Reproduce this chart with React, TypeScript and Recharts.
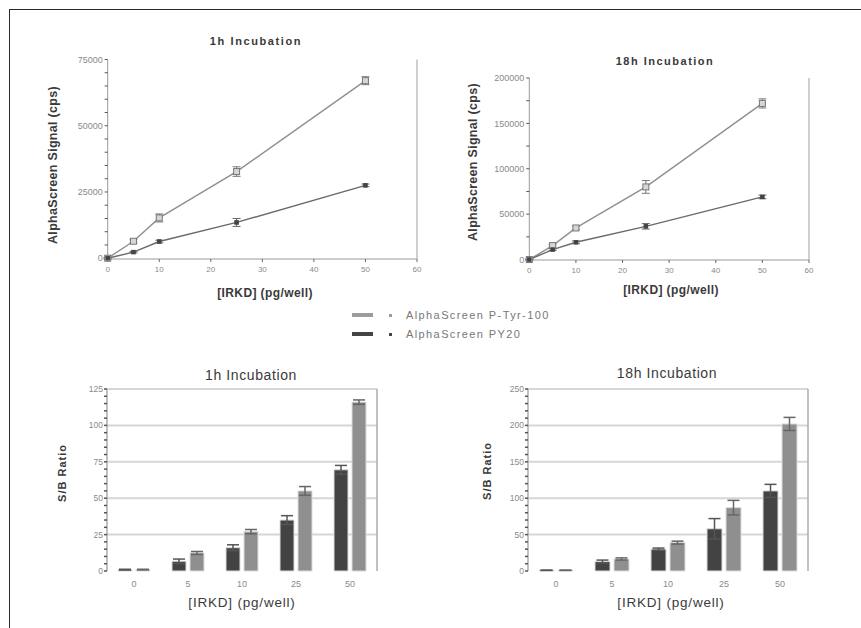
import React from 'react';
import { LineChart, Line, BarChart, Bar, XAxis, YAxis, CartesianGrid, ErrorBar } from 'recharts';

// concentrations (pg/well)
const doses = [0, 5, 10, 25, 50];
const doseLabels = ['0', '5', '10', '25', '50'];

// AlphaScreen signal (cps)
const signal1hPTyr = [0, 6400, 15200, 32700, 67000];
const signal1hPTyrErr = [300, 600, 1500, 1800, 1500];
const signal1hPY20 = [0, 2300, 6300, 13500, 27500];
const signal1hPY20Err = [200, 300, 500, 1500, 500];

const signal18hPTyr = [0, 15400, 34800, 80000, 172000];
const signal18hPTyrErr = [500, 1500, 2000, 7000, 5000];
const signal18hPY20 = [0, 11000, 19000, 36600, 69000];
const signal18hPY20Err = [500, 1000, 1500, 3000, 2000];

// S/B ratios
const ratio1hPY20 = [1, 6.7, 16, 35, 69.5];
const ratio1hPY20Err = [0.2, 1.5, 2, 3, 3];
const ratio1hPTyr = [1, 12.4, 27, 55, 116];
const ratio1hPTyrErr = [0.2, 1, 1.5, 3, 1.5];

const ratio18hPY20 = [1, 13, 30, 58, 110];
const ratio18hPY20Err = [0.2, 2, 1.5, 14, 9];
const ratio18hPTyr = [1, 16.5, 39, 87, 202];
const ratio18hPTyrErr = [0.2, 1.5, 2, 10, 9];

// axis ticks
const doseTicks = [0, 10, 20, 30, 40, 50, 60];
const signal1hTicks = [0, 5000, 10000, 15000, 20000, 25000, 30000, 35000, 40000, 45000, 50000, 55000, 60000, 65000, 70000, 75000];
const signal1hMajor = [0, 25000, 50000, 75000];
const signal18hTicks = [0, 25000, 50000, 75000, 100000, 125000, 150000, 175000, 200000];
const signal18hMajor = [0, 50000, 100000, 150000, 200000];
const ratio1hTicks = [0, 5, 10, 15, 20, 25, 30, 35, 40, 45, 50, 55, 60, 65, 70, 75, 80, 85, 90, 95, 100, 105, 110, 115, 120, 125];
const ratio1hMajor = [0, 25, 50, 75, 100, 125];
const ratio18hTicks = [0, 10, 20, 30, 40, 50, 60, 70, 80, 90, 100, 110, 120, 130, 140, 150, 160, 170, 180, 190, 200, 210, 220, 230, 240, 250];
const ratio18hMajor = [0, 50, 100, 150, 200, 250];

const FONT = '"Liberation Sans", Arial, sans-serif';
const LIGHT = '#8f8f8f';
const DARK = '#434343';

const lineRows = (a: number[], ea: number[], b: number[], eb: number[]) =>
  doses.map((d, i) => ({ dose: d, ptyr: a[i], ptyrErr: ea[i], py20: b[i], py20Err: eb[i] }));

const barRows = (a: number[], ea: number[], b: number[], eb: number[]) =>
  doseLabels.map((d, i) => ({ dose: d, py20: a[i], py20Err: ea[i], ptyr: b[i], ptyrErr: eb[i] }));

const rows1h = lineRows(signal1hPTyr, signal1hPTyrErr, signal1hPY20, signal1hPY20Err);
const rows18h = lineRows(signal18hPTyr, signal18hPTyrErr, signal18hPY20, signal18hPY20Err);
const bars1h = barRows(ratio1hPY20, ratio1hPY20Err, ratio1hPTyr, ratio1hPTyrErr);
const bars18h = barRows(ratio18hPY20, ratio18hPY20Err, ratio18hPTyr, ratio18hPTyrErr);

const majorOnly = (major: number[]) => (v: number) => (major.includes(v) ? String(v) : '');

const squareDot = (size: number, fill: string, stroke: string) => (props: any) => {
  const { cx, cy, index } = props;
  if (cx == null || cy == null) return <g key={`d-${index}`} />;
  return (
    <rect key={`d-${index}`} x={cx - size / 2} y={cy - size / 2} width={size} height={size}
      fill={fill} stroke={stroke} strokeWidth={1} />
  );
};

const Txt: React.FC<{
  x: number; y: number; size: number; bold?: boolean; rotate?: boolean; color?: string; spacing?: number;
  children: React.ReactNode;
}> = ({ x, y, size, bold, rotate, color = '#3a3a3a', spacing = 0, children }) => (
  <div style={{
    position: 'absolute', left: x, top: y, whiteSpace: 'nowrap', fontFamily: FONT, fontSize: size,
    fontWeight: bold ? 700 : 400, color, letterSpacing: spacing, lineHeight: 1,
    transform: `translate(-50%, -50%)${rotate ? ' rotate(-90deg)' : ''}`,
  }}>{children}</div>
);

const tickStyle = (size: number) => ({ fontSize: size, fill: '#8a8a8a', fontFamily: FONT });

const SignalChart: React.FC<{
  data: any[]; width: number; height: number; yWidth: number; margin: any;
  yTicks: number[]; yMajor: number[]; yMax: number; frameTop?: boolean;
}> = ({ data, width, height, yWidth, margin, yTicks, yMajor, yMax, frameTop }) => (
  <LineChart width={width} height={height} data={data} margin={margin}>
    <XAxis dataKey="dose" type="number" domain={[0, 60]} ticks={doseTicks} height={24} interval={0}
      tick={tickStyle(8)} tickSize={3} tickMargin={4} stroke="#9a9a9a" tickLine={{ stroke: '#666' }} />
    {frameTop && (
      <XAxis xAxisId="top" orientation="top" type="number" domain={[0, 60]} height={0}
        tick={false} tickLine={false} stroke="#a0a0a0" />
    )}
    <YAxis type="number" domain={[0, yMax]} ticks={yTicks} width={yWidth} interval={0}
      tickFormatter={majorOnly(yMajor)} tick={tickStyle(9)} tickSize={3} tickMargin={2}
      stroke="#9a9a9a" tickLine={{ stroke: '#555' }} />
    <YAxis yAxisId="r" orientation="right" type="number" domain={[0, yMax]} width={1}
      tick={false} tickLine={false} stroke="#a0a0a0" />
    <Line dataKey="ptyr" stroke={LIGHT} strokeWidth={1.4} isAnimationActive={false}
      dot={squareDot(6, '#d6d6d6', '#777')}>
      <ErrorBar dataKey="ptyrErr" width={4} stroke="#777" strokeWidth={1} direction="y" />
    </Line>
    <Line dataKey="py20" stroke="#6a6a6a" strokeWidth={1.4} isAnimationActive={false}
      dot={squareDot(3.5, '#444', '#444')}>
      <ErrorBar dataKey="py20Err" width={4} stroke="#666" strokeWidth={1} direction="y" />
    </Line>
  </LineChart>
);

const RatioChart: React.FC<{
  data: any[]; width: number; yWidth: number; margin: any; barSize: number;
  yTicks: number[]; yMajor: number[]; yMax: number;
}> = ({ data, width, yWidth, margin, barSize, yTicks, yMajor, yMax }) => (
  <BarChart width={width} height={222} data={data} margin={margin} barSize={barSize} barGap={4}>
    <CartesianGrid vertical={false} horizontalValues={yMajor.slice(1)} stroke="#d6d6d6" strokeWidth={2} />
    <XAxis dataKey="dose" height={15} tick={tickStyle(9)} tickLine={false} tickMargin={4}
      axisLine={false} interval={0} />
    <YAxis type="number" domain={[0, yMax]} ticks={yTicks} width={yWidth} interval={0}
      tickFormatter={majorOnly(yMajor)} tick={tickStyle(8.5)} tickSize={3} tickMargin={1}
      stroke="#ababab" strokeWidth={1.5} tickLine={{ stroke: '#555' }} />
    <YAxis yAxisId="r" orientation="right" type="number" domain={[0, yMax]} ticks={yTicks} width={3}
      interval={0} tick={false} tickSize={3} stroke="#ababab" strokeWidth={1.5} tickLine={{ stroke: '#555' }} />
    <Bar dataKey="py20" fill={DARK} stroke="#dcdcdc" strokeWidth={1} isAnimationActive={false}>
      <ErrorBar dataKey="py20Err" width={6} stroke="#555" strokeWidth={1.5} direction="y" />
    </Bar>
    <Bar dataKey="ptyr" fill={LIGHT} stroke="#dcdcdc" strokeWidth={1} isAnimationActive={false}>
      <ErrorBar dataKey="ptyrErr" width={6} stroke="#666" strokeWidth={1.5} direction="y" />
    </Bar>
  </BarChart>
);

const LegendRow: React.FC<{ y: number; color: string; label: string }> = ({ y, color, label }) => (
  <>
    <div style={{ position: 'absolute', left: 352, top: y - 2, width: 21, height: 4, background: color }} />
    <div style={{ position: 'absolute', left: 389, top: y - 1.5, width: 3, height: 3, background: color }} />
    <div style={{
      position: 'absolute', left: 406, top: y - 6, fontFamily: FONT, fontSize: 11, lineHeight: '12px',
      color: '#777', letterSpacing: 1.4, whiteSpace: 'nowrap',
    }}>{label}</div>
  </>
);

export default function App() {
  return (
    <div style={{ position: 'absolute', left: 0, top: 0, width: 861, height: 628, background: '#fff', overflow: 'hidden' }}>
      <div style={{ position: 'absolute', left: 9, top: 9, width: 860, height: 630, borderTop: '1.5px solid #2a2a2a', borderLeft: '1.5px solid #2a2a2a' }} />

      {/* top left: 1h signal */}
      <div style={{ position: 'absolute', left: 40, top: 50 }}>
        <SignalChart data={rows1h} width={390} height={240} yWidth={67.7}
          margin={{ top: 9.5, right: 12, bottom: 7, left: 0 }}
          yTicks={signal1hTicks} yMajor={signal1hMajor} yMax={75000} />
      </div>
      <Txt x={256} y={41} size={11} bold spacing={1.6}>1h Incubation</Txt>
      <Txt x={265} y={293} size={12} bold spacing={0.4}>[IRKD] (pg/well)</Txt>
      <Txt x={53} y={165} size={12.5} bold rotate spacing={0.3}>AlphaScreen Signal (cps)</Txt>

      {/* top right: 18h signal */}
      <div style={{ position: 'absolute', left: 460, top: 68 }}>
        <SignalChart data={rows18h} width={360} height={222} yWidth={69.3}
          margin={{ top: 10, right: 10, bottom: 6, left: 0 }}
          yTicks={signal18hTicks} yMajor={signal18hMajor} yMax={200000} frameTop />
      </div>
      <Txt x={665} y={61} size={11} bold spacing={1.5}>18h Incubation</Txt>
      <Txt x={671} y={290} size={12} bold spacing={0.4}>[IRKD] (pg/well)</Txt>
      <Txt x={473} y={162} size={12.5} bold rotate spacing={0.3}>AlphaScreen Signal (cps)</Txt>

      {/* legend */}
      <LegendRow y={315} color="#9c9c9c" label="AlphaScreen P-Tyr-100" />
      <LegendRow y={334} color="#444" label="AlphaScreen PY20" />

      {/* bottom left: 1h S/B */}
      <div style={{ position: 'absolute', left: 40, top: 380 }}>
        <RatioChart data={bars1h} width={350} yWidth={67} barSize={14}
          margin={{ top: 9, right: 10, bottom: 16, left: 0 }}
          yTicks={ratio1hTicks} yMajor={ratio1hMajor} yMax={125} />
      </div>
      <Txt x={251} y={375} size={14} spacing={0.6}>1h Incubation</Txt>
      <Txt x={242} y={603} size={13.5} spacing={0.8}>[IRKD] (pg/well)</Txt>
      <Txt x={62} y={473} size={11} bold rotate spacing={1}>S/B Ratio</Txt>

      {/* bottom right: 18h S/B */}
      <div style={{ position: 'absolute', left: 460, top: 380 }}>
        <RatioChart data={bars18h} width={360} yWidth={68} barSize={15}
          margin={{ top: 9, right: 9, bottom: 16, left: 0 }}
          yTicks={ratio18hTicks} yMajor={ratio18hMajor} yMax={250} />
      </div>
      <Txt x={667} y={373} size={14} spacing={0.6}>18h Incubation</Txt>
      <Txt x={671} y={603} size={13.5} spacing={0.8}>[IRKD] (pg/well)</Txt>
      <Txt x={487} y={471} size={11} bold rotate spacing={1}>S/B Ratio</Txt>
    </div>
  );
}
